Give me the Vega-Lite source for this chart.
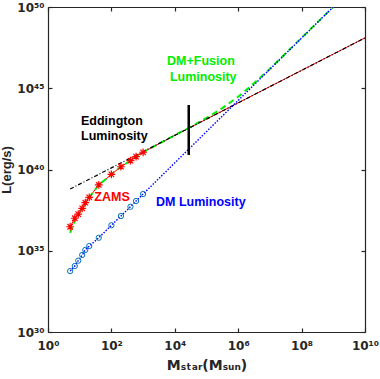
{
  "$schema": "https://vega.github.io/schema/vega-lite/v6.json",
  "width": 317,
  "height": 325,
  "autosize": "none",
  "padding": {"left": 48, "top": 7, "right": 15, "bottom": 47},
  "background": "white",
  "config": {
    "view": {"stroke": null},
    "font": "Liberation Sans",
    "axis": {
      "grid": false,
      "domainColor": "#262626",
      "domainWidth": 1.2,
      "tickColor": "#262626",
      "tickWidth": 1.2,
      "tickSize": -4,
      "labelColor": "#262626",
      "labelFont": "DejaVu Sans",
      "labelFontWeight": "bold",
      "labelFontSize": 12,
      "titleColor": "#262626",
      "titleFont": "Liberation Sans",
      "titleFontWeight": "bold",
      "titleFontSize": 13
    }
  },
  "datasets": {
    "edd": [
      {"M": 5, "L": 6.3e38}, {"M": 10, "L": 1.26e39}, {"M": 100, "L": 1.26e40},
      {"M": 1000, "L": 1.26e41}, {"M": 10000, "L": 1.26e42}, {"M": 100000, "L": 1.26e43},
      {"M": 1000000, "L": 1.26e44}, {"M": 10000000, "L": 1.26e45}, {"M": 100000000, "L": 1.26e46},
      {"M": 1000000000, "L": 1.26e47}, {"M": 10000000000, "L": 1.26e48}
    ],
    "zams": [
      {"M": 5, "L": 3.0e36}, {"M": 7, "L": 1.0e37}, {"M": 9, "L": 1.8e37},
      {"M": 12, "L": 4.1e37}, {"M": 15, "L": 9.1e37}, {"M": 20, "L": 1.95e38},
      {"M": 40, "L": 1.12e39}, {"M": 100, "L": 5.0e39}, {"M": 200, "L": 1.48e40},
      {"M": 400, "L": 3.5e40}, {"M": 600, "L": 6.2e40}, {"M": 1000, "L": 1.15e41}
    ],
    "fusion": [
      {"M": 5, "L": 3.0e36}, {"M": 7, "L": 1.0e37}, {"M": 9, "L": 1.8e37},
      {"M": 12, "L": 4.1e37}, {"M": 15, "L": 9.1e37}, {"M": 20, "L": 1.95e38},
      {"M": 40, "L": 1.12e39}, {"M": 100, "L": 5.0e39}, {"M": 200, "L": 1.48e40},
      {"M": 400, "L": 3.5e40}, {"M": 600, "L": 6.2e40}, {"M": 1000, "L": 1.15e41},
      {"M": 10000, "L": 1.26e42}, {"M": 100000, "L": 1.26e43}, {"M": 1000000, "L": 1.26e44},
      {"M": 10000000, "L": 1.26e45}, {"M": 100000000, "L": 1.26e46},
      {"M": 1000000000, "L": 1.26e47}, {"M": 10000000000, "L": 1.26e48}
    ],
    "dm": [
      {"M": 5, "L": 5.6e33}, {"M": 7, "L": 1.15e34}, {"M": 9, "L": 2.45e34},
      {"M": 12, "L": 5.5e34}, {"M": 15, "L": 1.12e35}, {"M": 20, "L": 1.95e35},
      {"M": 40, "L": 6.3e35}, {"M": 100, "L": 3.7e36}, {"M": 200, "L": 1.38e37},
      {"M": 400, "L": 5.1e37}, {"M": 600, "L": 1.15e38}, {"M": 1000, "L": 3.1e38}
    ],
    "dmline": [
      {"M": 5, "L": 5.6e33}, {"M": 7, "L": 1.15e34}, {"M": 9, "L": 2.45e34},
      {"M": 12, "L": 5.5e34}, {"M": 15, "L": 1.12e35}, {"M": 20, "L": 1.95e35},
      {"M": 40, "L": 6.3e35}, {"M": 100, "L": 3.7e36}, {"M": 200, "L": 1.38e37},
      {"M": 400, "L": 5.1e37}, {"M": 600, "L": 1.15e38}, {"M": 1000, "L": 3.1e38},
      {"M": 10000, "L": 2.57e40}, {"M": 100000, "L": 2.14e42}, {"M": 1000000, "L": 1.78e44},
      {"M": 10000000, "L": 1.48e46}, {"M": 100000000, "L": 1.23e48}, {"M": 1000000000, "L": 1.02e50}
    ],
    "total": [
      {"M": 5, "L": 1.26e36}, {"M": 7, "L": 7.1e36}, {"M": 9, "L": 1.8e37},
      {"M": 12, "L": 4.1e37}, {"M": 15, "L": 9.1e37}, {"M": 20, "L": 1.95e38},
      {"M": 40, "L": 1.12e39}, {"M": 100, "L": 5.0e39}, {"M": 200, "L": 1.48e40},
      {"M": 400, "L": 3.5e40}, {"M": 600, "L": 6.2e40}, {"M": 1000, "L": 1.15e41},
      {"M": 10000, "L": 1.29e42}, {"M": 28000, "L": 3.7e42}, {"M": 100000, "L": 1.48e43},
      {"M": 300000, "L": 5.6e43}, {"M": 1000000, "L": 3.0e44}, {"M": 3000000, "L": 1.86e45},
      {"M": 10000000, "L": 1.58e46}, {"M": 100000000, "L": 1.26e48}, {"M": 1000000000, "L": 1.02e50}
    ],
    "bar": [{"M": 27500, "L": 7.8e40, "L2": 9.3e43}],
    "notes": [
      {"M": 5700, "L": 4.8e46, "text": "DM+Fusion", "series": "DM+Fusion"},
      {"M": 7000, "L": 4.9e45, "text": "Luminosity", "series": "DM+Fusion"},
      {"M": 11, "L": 1.0e43, "text": "Eddington", "series": "Eddington"},
      {"M": 11, "L": 1.15e42, "text": "Luminosity", "series": "Eddington"},
      {"M": 29, "L": 2.1e38, "text": "ZAMS", "series": "ZAMS"},
      {"M": 2560, "L": 1.05e38, "text": "DM Luminosity", "series": "DM"}
    ]
  },
  "layer": [
    {
      "data": {"name": "fusion"},
      "mark": {"type": "line", "color": "#ff0000", "strokeWidth": 1, "clip": true},
      "encoding": {
        "x": {"field": "M", "type": "quantitative", "scale": {"type": "log", "domain": [1, 10000000000], "nice": false},
          "axis": {"orient": "bottom", "values": [1, 100, 10000, 1000000, 100000000, 10000000000],
            "labelExpr": "['10⁰','10²','10⁴','10⁶','10⁸','10¹⁰'][round(log(datum.value)/LN10/2)]",
            "labelPadding": 12, "labelFlush": false, "title": "Mₛₜₐᵣ(Mₛᵤₙ)", "titleFont": "DejaVu Sans", "titleFontSize": 14, "titlePadding": 7}},
        "y": {"field": "L", "type": "quantitative", "scale": {"type": "log", "domain": [1e30, 1e50], "nice": false},
          "axis": {"orient": "left", "values": [1e30, 1e35, 1e40, 1e45, 1e50],
            "labelExpr": "['10³⁰','10³⁵','10⁴⁰','10⁴⁵','10⁵⁰'][round((log(datum.value)/LN10 - 30)/5)]",
            "labelPadding": 8, "labelFlush": false, "title": "L(erg/s)", "titlePadding": 3}}
      }
    },
    {
      "data": {"name": "total"},
      "mark": {"type": "line", "color": "#00ee00", "strokeWidth": 2, "strokeDash": [6, 4], "clip": true},
      "encoding": {
        "x": {"field": "M", "type": "quantitative", "scale": {"type": "log", "domain": [1, 10000000000], "nice": false},
          "axis": {"orient": "top", "values": [1, 100, 10000, 1000000, 100000000, 10000000000], "labels": false, "title": null}},
        "y": {"field": "L", "type": "quantitative", "scale": {"type": "log", "domain": [1e30, 1e50], "nice": false},
          "axis": {"orient": "right", "values": [1e30, 1e35, 1e40, 1e45, 1e50], "labels": false, "title": null}}
      }
    },
    {
      "data": {"name": "edd"},
      "mark": {"type": "line", "color": "#000000", "strokeWidth": 1.2, "strokeDash": [4, 2, 1, 2], "clip": true},
      "encoding": {
        "x": {"field": "M", "type": "quantitative", "scale": {"type": "log", "domain": [1, 10000000000], "nice": false}, "axis": null},
        "y": {"field": "L", "type": "quantitative", "scale": {"type": "log", "domain": [1e30, 1e50], "nice": false}, "axis": null}
      }
    },
    {
      "data": {"name": "dmline"},
      "mark": {"type": "line", "color": "#0000ff", "strokeWidth": 1.4, "strokeDash": [1.5, 1.5], "clip": true},
      "encoding": {
        "x": {"field": "M", "type": "quantitative", "scale": {"type": "log", "domain": [1, 10000000000], "nice": false}, "axis": null},
        "y": {"field": "L", "type": "quantitative", "scale": {"type": "log", "domain": [1e30, 1e50], "nice": false}, "axis": null}
      }
    },
    {
      "data": {"name": "dm"},
      "mark": {"type": "point", "shape": "circle", "filled": false, "stroke": "#0072bd", "strokeWidth": 1, "size": 28, "opacity": 1},
      "encoding": {
        "x": {"field": "M", "type": "quantitative", "scale": {"type": "log", "domain": [1, 10000000000], "nice": false}, "axis": null},
        "y": {"field": "L", "type": "quantitative", "scale": {"type": "log", "domain": [1e30, 1e50], "nice": false}, "axis": null}
      }
    },
    {
      "data": {"name": "zams"},
      "mark": {"type": "point", "shape": "M-1,0L1,0M0,-1L0,1M-0.7,-0.7L0.7,0.7M-0.7,0.7L0.7,-0.7", "filled": false, "stroke": "#ff0000", "strokeWidth": 1.2, "size": 60, "opacity": 1},
      "encoding": {
        "x": {"field": "M", "type": "quantitative", "scale": {"type": "log", "domain": [1, 10000000000], "nice": false}, "axis": null},
        "y": {"field": "L", "type": "quantitative", "scale": {"type": "log", "domain": [1e30, 1e50], "nice": false}, "axis": null}
      }
    },
    {
      "data": {"name": "bar"},
      "mark": {"type": "rule", "color": "#000000", "strokeWidth": 2.5},
      "encoding": {
        "x": {"field": "M", "type": "quantitative", "scale": {"type": "log", "domain": [1, 10000000000], "nice": false}, "axis": null},
        "y": {"field": "L", "type": "quantitative", "scale": {"type": "log", "domain": [1e30, 1e50], "nice": false}, "axis": null},
        "y2": {"field": "L2"}
      }
    },
    {
      "data": {"name": "notes"},
      "mark": {"type": "text", "align": "left", "baseline": "middle", "font": "Liberation Sans", "fontWeight": "bold", "fontSize": 12.5},
      "encoding": {
        "x": {"field": "M", "type": "quantitative", "scale": {"type": "log", "domain": [1, 10000000000], "nice": false}, "axis": null},
        "y": {"field": "L", "type": "quantitative", "scale": {"type": "log", "domain": [1e30, 1e50], "nice": false}, "axis": null},
        "text": {"field": "text"},
        "color": {"field": "series", "type": "nominal", "legend": null,
          "scale": {"domain": ["DM+Fusion", "Eddington", "ZAMS", "DM"], "range": ["#00ee00", "#000000", "#ff0000", "#0000ff"]}}
      }
    }
  ],
  "resolve": {"axis": {"x": "independent", "y": "independent"}}
}
